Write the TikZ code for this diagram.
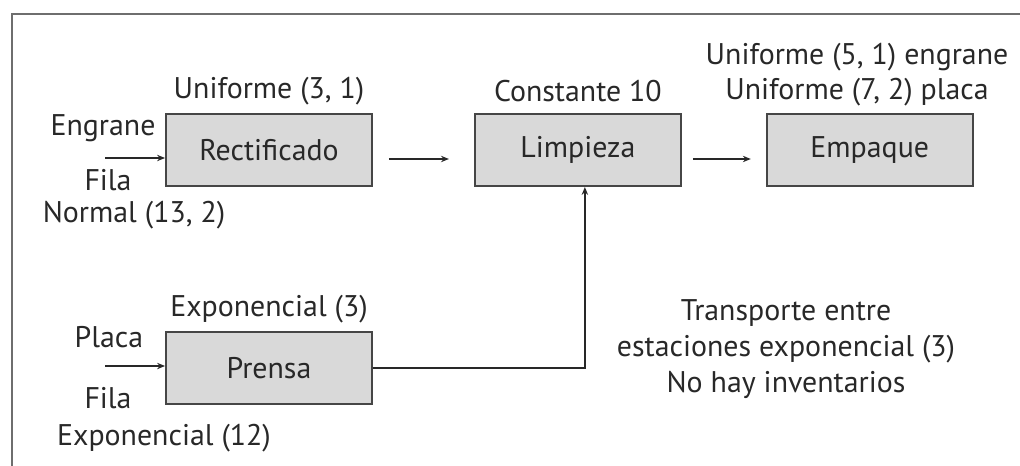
\documentclass[tikz,border=0pt]{standalone}
\usepackage{fontspec}
\setmainfont{PT Sans}
\usepackage{tikz}
\usetikzlibrary{arrows.meta, positioning}
\definecolor{boxgray}{RGB}{217,217,217}
\definecolor{edgegray}{RGB}{70,70,70}
\definecolor{framegray}{RGB}{110,110,110}
\definecolor{inkgray}{RGB}{40,40,40}

\begin{document}
\begin{tikzpicture}[
    x=0.02cm, y=-0.02cm,
    station/.style={rectangle, draw=edgegray, fill=boxgray, line width=1.1pt, minimum width=4.12cm, minimum height=1.44cm, inner sep=0pt, font=\fontsize{17}{20}\selectfont, text=inkgray},
    lbl/.style={font=\fontsize{17}{20.4}\selectfont, text=inkgray, inner sep=0pt, align=center},
    arrow/.style={-{Stealth[length=4.5pt, width=3.6pt]}, line width=0.9pt, inkgray},
    frame/.style={line width=1.4pt, framegray},
]
    \useasboundingbox (0,0) rectangle (1020,466);
    \draw[frame] (12,466) -- (12,14) -- (1020,14);

    % Stations
    \node[station] (rect) at (269,150) {Rectificado};
    \node[station, right=2.02cm of rect] (limp) {Limpieza};
    \node[station, right=1.68cm of limp] (emp) {Empaque};
    \node[station, below=2.88cm of rect] (prensa) {Prensa};

    % Service times
    \node[lbl, above=0.44cm of rect.north, anchor=center] {Uniforme (3, 1)};
    \node[lbl, above=0.44cm of limp.north, anchor=center] {Constante 10};
    \node[lbl, above=0.44cm of prensa.north, anchor=center] {Exponencial (3)};
    \node[lbl] (empA) at (857,57) {Uniforme (5, 1) engrane};
    \node[lbl] (empB) at (857,92) {Uniforme (7, 2) placa};

    % Arrivals
    \node[lbl] (engrane) at (103,128) {Engrane};
    \node[lbl] (filaA) at (108,180) {Fila};
    \node[lbl] (normal) at (134,215) {Normal (13, 2)};
    \node[lbl] (placa) at (109,337) {Placa};
    \node[lbl] (filaB) at (108,398) {Fila};
    \node[lbl] (expo) at (164,438) {Exponencial (12)};
    \coordinate (inA) at (105,158);
    \coordinate (inB) at (105,366);

    % Note
    \node[lbl] (nota) at (786,349) {Transporte entre\\estaciones exponencial (3)\\No hay inventarios};

    % Flow
    \draw[arrow] (inA) -- (inA -| rect.west);
    \draw[arrow] (inB) -- (inB -| prensa.west);
    \draw[arrow, shorten <=0.32cm, shorten >=0.5cm] ([yshift=-0.18cm]rect.east) -- ([yshift=-0.18cm]limp.west);
    \draw[arrow, shorten <=0.22cm, shorten >=0.3cm] ([yshift=-0.18cm]limp.east) -- ([yshift=-0.18cm]emp.west);
    \draw[arrow] (prensa.east) -| ([xshift=0.14cm]limp.south);
\end{tikzpicture}
\end{document}
